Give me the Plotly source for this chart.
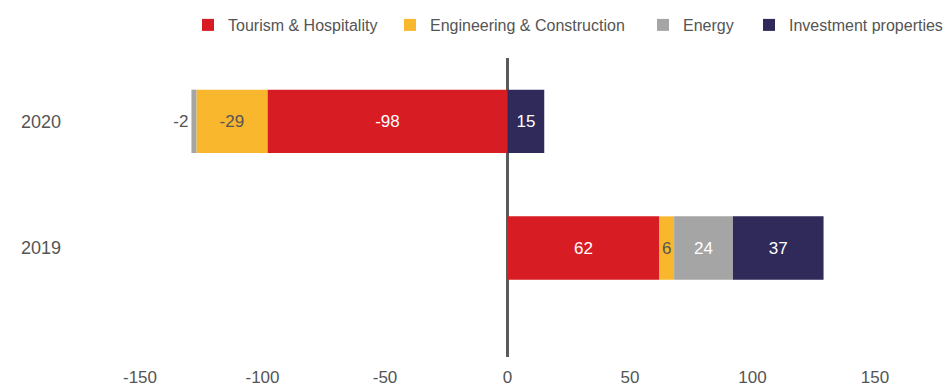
import plotly.graph_objects as go

years = ["2019", "2020"]
tourism = [62, -98]
engineering = [6, -29]
energy = [24, -2]
investment = [37, 15]
x_ticks = [-150, -100, -50, 0, 50, 100, 150]

series = [
    ("Tourism & Hospitality", tourism, "#D71C24", "white", ["inside", "inside"]),
    ("Engineering & Construction", engineering, "#F9B72D", "#555555", ["inside", "inside"]),
    ("Energy", energy, "#A5A5A5", "white", ["inside", "outside"]),
    ("Investment properties", investment, "#2F2A5A", "white", ["inside", "inside"]),
]
legend_ids = ["legend", "legend2", "legend3", "legend4"]
legend_x_px = [188, 390, 643, 749]

fig = go.Figure()
for (name, vals, color, tcolor, tpos), lid in zip(series, legend_ids):
    fig.add_trace(go.Bar(
        y=years, x=vals, name=name, orientation="h", legend=lid,
        marker=dict(color=color, line=dict(width=0)),
        text=[str(v) for v in vals], textposition=tpos,
        insidetextanchor="middle",
        insidetextfont=dict(color=tcolor, size=17),
        outsidetextfont=dict(color="#555555", size=17),
        constraintext="none",
        cliponaxis=False,
        width=0.5,
    ))

W, H = 945, 387
legend_common = dict(orientation="h", xref="container", xanchor="left",
                     yref="container", y=1 - 25 / H, yanchor="middle",
                     font=dict(size=16, color="#555555"), itemwidth=30,
                     bgcolor="rgba(0,0,0,0)")
layout_legends = {lid: dict(legend_common, x=px / W) for lid, px in zip(legend_ids, legend_x_px)}

fig.update_layout(
    width=W, height=H,
    barmode="relative",
    paper_bgcolor="white", plot_bgcolor="white",
    margin=dict(l=140, r=70, t=58, b=30, autoexpand=False),
    font=dict(family="Liberation Sans, Arial, sans-serif", color="#555555"),
    showlegend=True,
    xaxis=dict(range=[-150, 150], tickvals=x_ticks, ticktext=[str(t) for t in x_ticks],
               showgrid=False, zeroline=True, zerolinecolor="#5a5a5a", zerolinewidth=3,
               showline=False, ticks="", tickfont=dict(size=17, color="#555555"),
               ticklabelstandoff=8, fixedrange=True),
    yaxis=dict(categoryorder="array", categoryarray=years, range=[-0.86, 1.5],
               showgrid=False, zeroline=False, showline=False, ticks="",
               tickfont=dict(size=18, color="#555555"), ticklabelstandoff=78),
    **layout_legends,
)

fig.write_html("out.html", config={"displayModeBar": False},
               post_script="document.body.style.margin='0px';")
